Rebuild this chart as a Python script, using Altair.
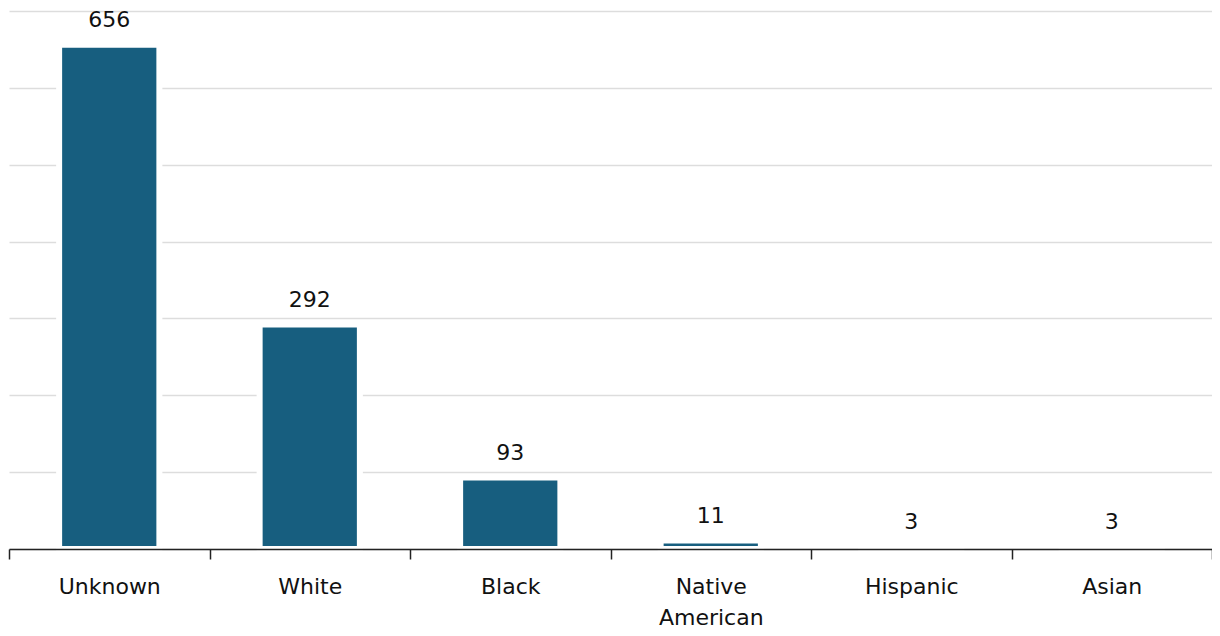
import altair as alt
import pandas as pd

categories = ["Unknown", "White", "Black", "Native American", "Hispanic", "Asian"]
values = [656, 292, 93, 11, 3, 3]
grid_values = [0, 100, 200, 300, 400, 500, 600, 700]

df = pd.DataFrame({"cat": categories, "val": values})

FONT = "DejaVu Sans"

x = alt.X("cat:N", sort=categories, title=None,
          scale=alt.Scale(paddingInner=0, paddingOuter=0),
          axis=alt.Axis(labelAngle=0, labelFontSize=22, labelFont=FONT, labelColor="#111111",
                        labelPadding=17, labelLineHeight=31, tickSize=10, tickColor="#222222",
                        domainColor="#222222", domainWidth=1.5, tickWidth=1.5, tickBand="extent",
                        labelExpr="split(datum.label, ' ')", zindex=1))
y = alt.Y("val:Q", title=None,
          scale=alt.Scale(domain=[0, 700], nice=False),
          axis=alt.Axis(labels=False, ticks=False, domain=False, values=grid_values,
                        gridColor="#dddddd", gridWidth=1.5))

bars = alt.Chart(df).mark_bar(color="#175e7f", stroke="#ffffff", strokeWidth=6,
                              width=alt.RelativeBandSize(0.5)).encode(x=x, y=y)
labels = alt.Chart(df).mark_text(fontSize=22, font=FONT, color="#111111", baseline="alphabetic",
                                 dy=-18).encode(x=alt.X("cat:N", sort=categories), y="val:Q", text="val:Q")

chart = (bars + labels).properties(
    width=1203, height=538,
    autosize=alt.AutoSizeParams(type="none"),
    padding={"left": 1, "top": 3, "right": 0, "bottom": 79},
).configure_view(stroke=None)

chart.save("out.html", embed_options={"renderer": "svg", "actions": False})
